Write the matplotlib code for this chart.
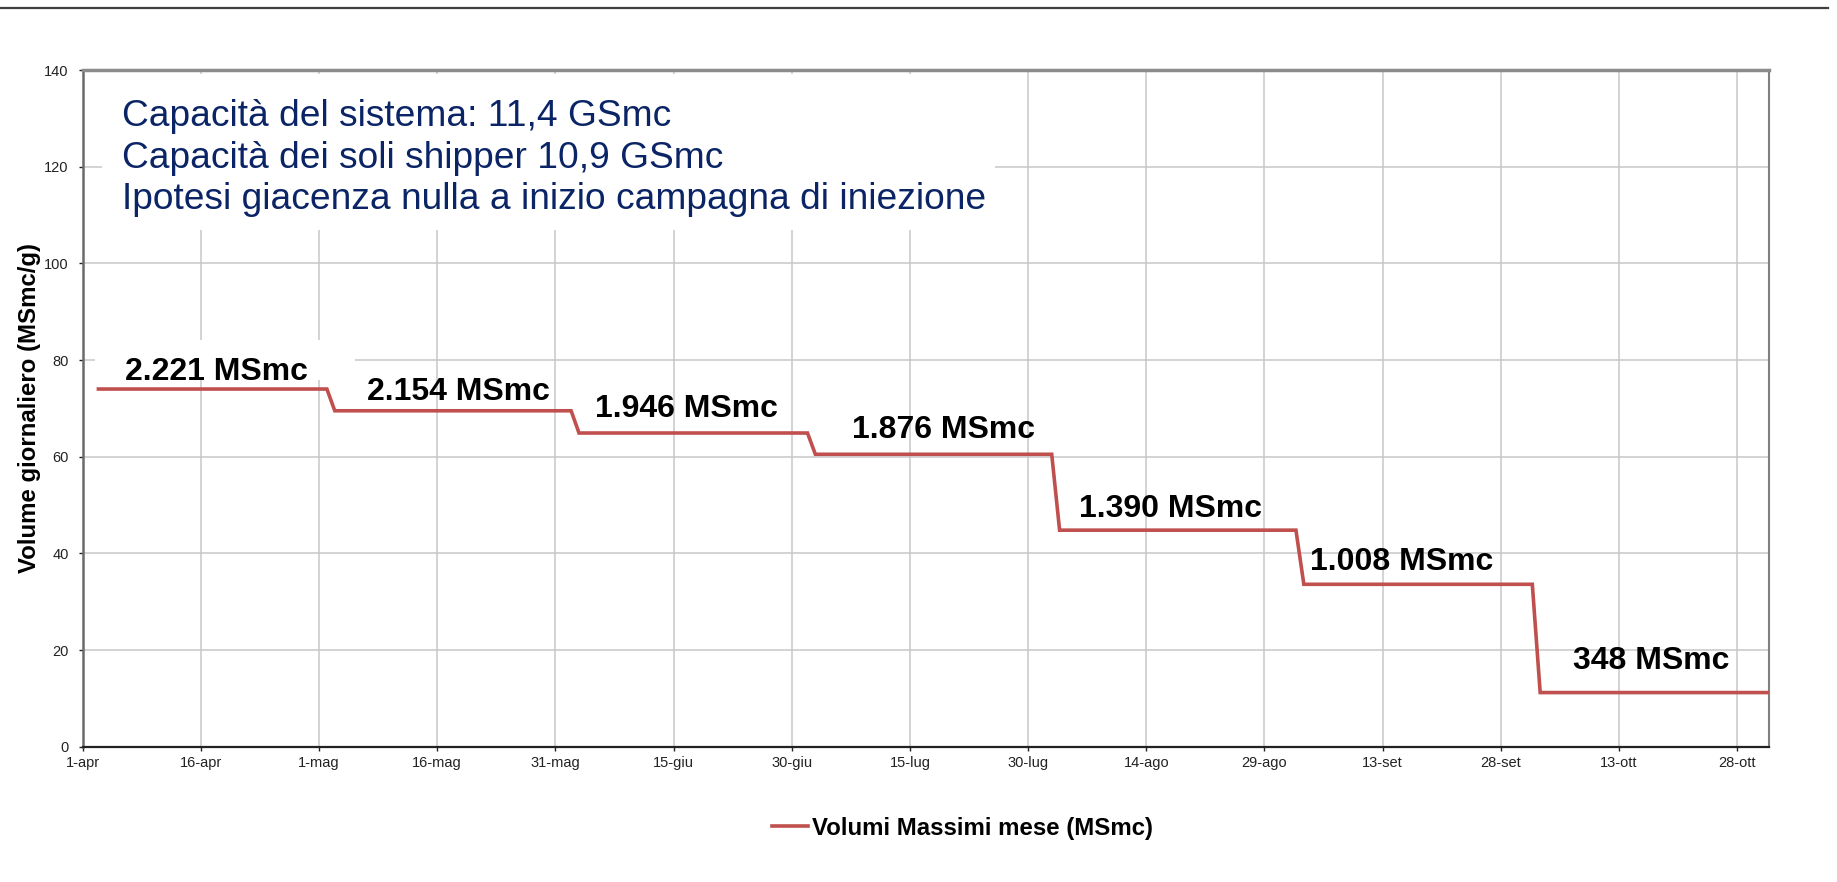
import matplotlib
matplotlib.use("Agg")
import matplotlib.pyplot as plt
from matplotlib.patches import Rectangle
from matplotlib.lines import Line2D

plt.rcParams['font.family'] = ['Liberation Sans', 'DejaVu Sans']

# ---------------- data ----------------
tick_days = [0, 15, 30, 45, 60, 75, 90, 105, 120, 135, 150, 165, 180, 195, 210]
tick_labels = ["1-apr", "16-apr", "1-mag", "16-mag", "31-mag", "15-giu", "30-giu",
               "15-lug", "30-lug", "14-ago", "29-ago", "13-set", "28-set", "13-ott", "28-ott"]
seg_start = [2, 32, 63, 93, 124, 155, 185]      # day index where each monthly level starts
seg_end = [31, 62, 92, 123, 154, 184, 214]      # day index where each monthly level ends
levels = [74.0, 69.5, 64.9, 60.5, 44.8, 33.6, 11.2]   # MSmc/g
month_labels = ["2.221 MSmc", "2.154 MSmc", "1.946 MSmc", "1.876 MSmc",
                "1.390 MSmc", "1.008 MSmc", "348 MSmc"]
info_lines = ["Capacità del sistema: 11,4 GSmc",
              "Capacità dei soli shipper 10,9 GSmc",
              "Ipotesi giacenza nulla a inizio campagna di iniezione"]
series_name = "Volumi Massimi mese (MSmc)"
y_label = "Volume giornaliero (MSmc/g)"

# ---------------- layout ----------------
label_x = [5.4, 36.1, 65.0, 97.7, 126.5, 155.8, 189.2]
label_y = [75.9, 71.7, 68.2, 63.8, 47.5, 36.6, 16.1]
info_x = 5.0
info_y = [128.4, 119.8, 111.3]

fig = plt.figure(figsize=(18.37, 8.82), dpi=100)
ax = fig.add_axes([0.0450, 0.1534, 0.9178, 0.7672])

xs, ys = [], []
for s, e, v in zip(seg_start, seg_end, levels):
    xs += [s, e]
    ys += [v, v]

ax.plot(xs, ys, color='#C0504D', lw=2.6, solid_joinstyle='miter', zorder=3,
        label=series_name)

ax.set_xlim(0, 214)
ax.set_ylim(0, 140)
ax.set_xticks(tick_days)
ax.set_xticklabels(tick_labels)
ax.set_yticks(range(0, 141, 20))
ax.set_axisbelow(True)
ax.grid(True, color='#c8c8c8', lw=1.1)
ax.tick_params(axis='both', labelsize=10.5, colors='#222222', length=3, width=1)
ax.tick_params(axis='y', pad=7)
ax.tick_params(axis='x', pad=4)

ax.spines['left'].set_color('#6b6b6b'); ax.spines['left'].set_linewidth(1.8)
ax.spines['bottom'].set_color('#222222'); ax.spines['bottom'].set_linewidth(1.6)
ax.spines['top'].set_color('#8c8c8c'); ax.spines['top'].set_linewidth(2.5)
ax.spines['right'].set_color('#808080'); ax.spines['right'].set_linewidth(1.5)

ax.set_ylabel(y_label, fontsize=17.3, fontweight='bold')
ax.yaxis.set_label_coords(-0.0245, 0.5)

# white text boxes hiding gridlines
ax.add_patch(Rectangle((2.4, 106.9), 113.4, 32.3, facecolor='white', edgecolor='none', zorder=1))
ax.add_patch(Rectangle((1.6, 75.9), 33.0, 8.2, facecolor='white', edgecolor='none', zorder=1))

for y, t in zip(info_y, info_lines):
    ax.text(info_x, y, t, fontsize=26.7, color='#0a2466', ha='left', va='baseline', zorder=4)

for x, y, t in zip(label_x, label_y, month_labels):
    ax.text(x, y, t, fontsize=23, fontweight='bold', color='black',
            ha='left', va='baseline', zorder=4)

leg = ax.legend(loc='center', bbox_to_anchor=(0.524, 0.0612), bbox_transform=fig.transFigure,
                frameon=False, handlelength=1.5, handletextpad=0.15, borderpad=0,
                prop={'size': 17.3, 'weight': 'bold'})

fig.add_artist(Line2D([0, 0.995], [0.991, 0.991], transform=fig.transFigure,
                      color='#404040', lw=1.6))

fig.savefig("out.png", dpi=100)
